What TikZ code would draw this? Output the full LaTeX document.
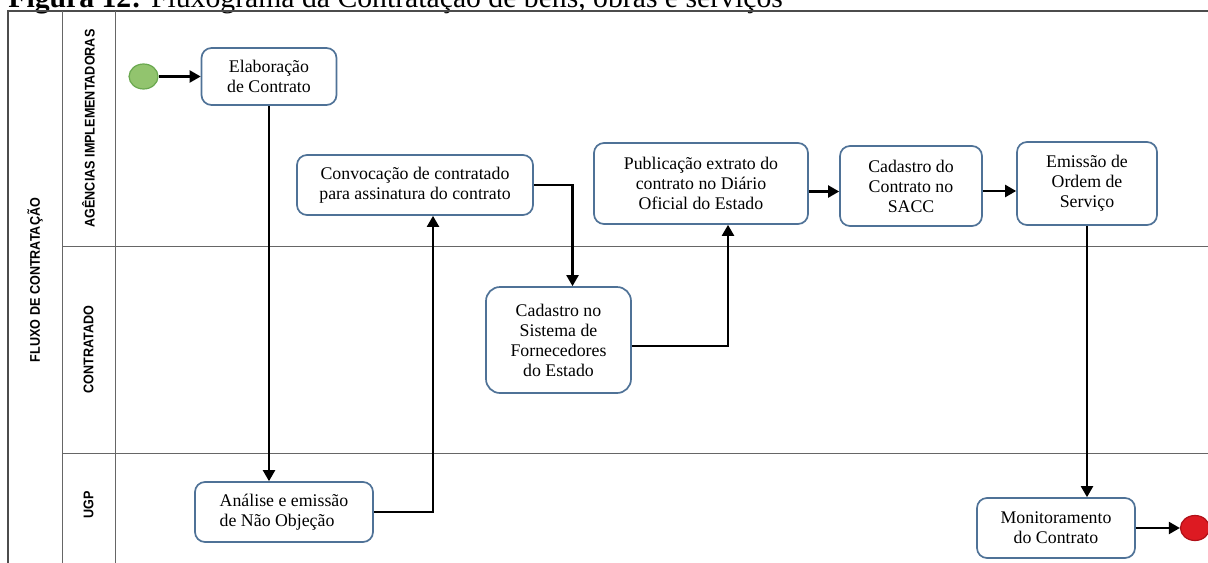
\documentclass[tikz,border=0pt]{standalone}
\usepackage{fontspec}
\setmainfont{Liberation Serif}
\newfontfamily\lanefont[FakeStretch=0.9]{Liberation Sans}
\usetikzlibrary{shapes.geometric, arrows.meta, positioning}

\definecolor{boxline}{HTML}{4F7297}
\definecolor{startfill}{HTML}{92C46E}
\definecolor{startline}{HTML}{6AA84F}
\definecolor{endfill}{HTML}{DD1A22}
\definecolor{endline}{HTML}{B01018}

\begin{document}
\begin{tikzpicture}[
    x=0.5pt, y=-0.5pt,
    box/.style={rectangle, draw=boxline, line width=0.85pt, rounded corners=5pt, fill=white,
        align=center, inner sep=0pt, font=\fontsize{8.9}{10}\selectfont},
    event/.style={ellipse, minimum width=14.5pt, minimum height=12.5pt, inner sep=0pt, line width=0.6pt},
    lanelabel/.style={rotate=90, font=\lanefont\bfseries\fontsize{7}{8}\selectfont},
    frame/.style={draw=black!70, line width=0.8pt},
    laneline/.style={draw=black!60, line width=0.5pt},
    arrow/.style={-{Triangle[length=5.5pt,width=6pt]}, line width=1.1pt}
]
\useasboundingbox (0,0) rectangle (1208,562);

% Title (cut by the page top)
\node[anchor=base west, inner sep=0pt, font=\fontsize{14.85}{16}\selectfont] (title) at (8,7)
    {\textbf{Figura 12:} Fluxograma da Contratação de bens, obras e serviços};

% Pool and lanes
\draw[frame] (1216,11) -- (8,11) -- (8,570);
\draw[laneline] (62,11) -- (62,570);
\draw[laneline] (115,11) -- (115,570);
\draw[laneline] (62,246) -- (1216,246);
\draw[laneline] (62,453) -- (1216,453);

\node[lanelabel] (pool) at (35,280) {FLUXO DE CONTRATAÇÃO};
\node[lanelabel] (laneag) at (88.5,128.5) {AGÊNCIAS IMPLEMENTADORAS};
\node[lanelabel] (laneco) at (88.5,349.5) {CONTRATADO};
\node[lanelabel] (laneug) at (88.5,505) {UGP};

% Lane 1: Agencias
\node[box, minimum width=67.5pt, minimum height=28.5pt] (elab) at (269,76.5) {Elaboração\\de Contrato};
\node[event, fill=startfill, draw=startline, left=21pt of elab] (start) {};
\node[box, minimum width=118pt, minimum height=30pt] (conv) at (415,185) {Convocação de contratado\\para assinatura do contrato};
\node[box, minimum width=107pt, minimum height=40.5pt] (pub) at (701,183.5) {Publicação extrato do\\contrato no Diário\\Oficial do Estado};
\node[box, minimum width=71pt, minimum height=40pt] (sacc) at (911,186) {Cadastro do\\Contrato no\\SACC};
\node[box, minimum width=70pt, minimum height=41.5pt] (emis) at (1087,183.5) {Emissão de\\Ordem de\\Serviço};

% Lane 2: Contratado
\node[box, rounded corners=7pt, minimum width=72.5pt, minimum height=53pt] (cadsis) at (558.5,340) {Cadastro no\\Sistema de\\Fornecedores\\do Estado};

% Lane 3: UGP
\node[box, align=left, minimum width=89pt, minimum height=30pt] (analise) at (284,512) {Análise e emissão\\de Não Objeção};
\node[box, minimum width=79pt, minimum height=30pt] (monit) at (1056,528) {Monitoramento\\do Contrato};
\node[event, fill=endfill, draw=endline, right=22pt of monit] (end) {};

% Arrows
\draw[arrow] (start) -- (elab);
\draw[arrow] (elab.south) -- (elab.south |- analise.north);
\draw[arrow] (analise.east) -| ([xshift=9pt]conv.south);
\draw[arrow] (conv.east) -| ([xshift=7pt]cadsis.north);
\draw[arrow] ([yshift=-3pt]cadsis.east) -| ([xshift=13.5pt]pub.south);
\draw[arrow] ([yshift=-4pt]pub.east) -- ([yshift=-4pt]pub.east -| sacc.west);
\draw[arrow] ([yshift=-2.5pt]sacc.east) -- ([yshift=-2.5pt]sacc.east -| emis.west);
\draw[arrow] (emis.south) -- (emis.south |- monit.north);
\draw[arrow] (monit) -- (end);

\end{tikzpicture}
\end{document}
